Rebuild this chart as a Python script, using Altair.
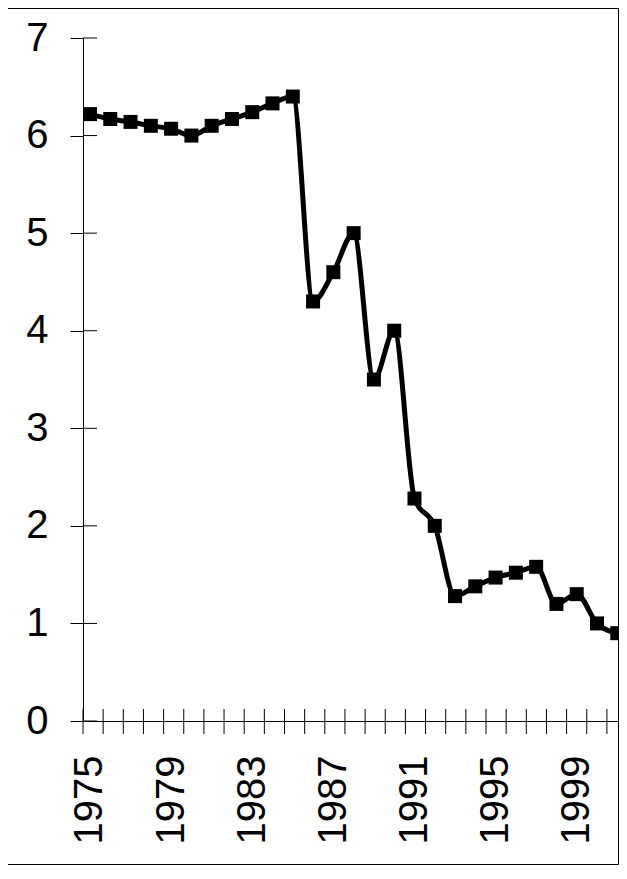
import altair as alt
import pandas as pd

years = list(range(1975, 2002))
values = [6.22, 6.17, 6.14, 6.10, 6.07, 6.00, 6.10, 6.17, 6.24, 6.33, 6.40,
          4.30, 4.60, 5.00, 3.50, 4.00, 2.28, 2.00, 1.28, 1.38, 1.47, 1.52, 1.58,
          1.20, 1.30, 1.00, 0.90]
label_years = [1975, 1979, 1983, 1987, 1991, 1995, 1999]
y_ticks = [0, 1, 2, 3, 4, 5, 6, 7]
# category boundary tick marks on the x axis
x_tick_positions = [1974.655 + k * 0.9936 for k in range(27)]

W, H = 534, 683          # plot area used for layout
RANGE_W = 541            # x scale range (extends to the cropped right edge)
X_DOMAIN = [1974.655, 1974.655 + RANGE_W / 20.28]
FONT = "Liberation Sans"

df = pd.DataFrame({"year": years, "value": values})
xs = alt.Scale(domain=X_DOMAIN, range=[0, RANGE_W], nice=False, zero=False)
ys = alt.Scale(domain=[0, 7], nice=False, zero=True)

xaxis = alt.Axis(values=label_years, format="d", ticks=False,
                 labelAngle=270, labelAlign="right", labelBaseline="middle",
                 labelPadding=34, labelFontSize=40, labelFont=FONT,
                 labelColor="black", labelFlush=False, labelOverlap=False,
                 domainColor="black", domainWidth=1, grid=False, title=None)
yaxis = alt.Axis(values=y_ticks, format="d", tickSize=13, tickColor="black",
                 tickWidth=1, labelPadding=22, labelFontSize=40,
                 labelFont=FONT, labelColor="black", domainColor="black",
                 domainWidth=1, grid=False, title=None)

line = alt.Chart(df).mark_line(
    color="black", strokeWidth=5, interpolate="monotone"
).encode(
    x=alt.X("year:Q", scale=xs, axis=xaxis, title=None),
    y=alt.Y("value:Q", scale=ys, axis=yaxis, title=None),
)

points = alt.Chart(df).mark_point(
    shape="square", filled=True, size=196, color="black", opacity=1
).encode(
    x=alt.X("year:Q", scale=xs, axis=xaxis, title=None),
    y=alt.Y("value:Q", scale=ys, axis=yaxis, title=None),
)

ytick_df = pd.DataFrame({"v": y_ticks})
yticks_in = alt.Chart(ytick_df).mark_rule(color="black", strokeWidth=1).encode(
    y=alt.Y("v:Q", scale=ys, axis=yaxis, title=None),
    x=alt.value(0), x2=alt.value(14),
)

xtick_df = pd.DataFrame({"t": x_tick_positions})
xticks = alt.Chart(xtick_df).mark_rule(color="black", strokeWidth=1).encode(
    x=alt.X("t:Q", scale=xs, axis=xaxis, title=None),
    y=alt.value(H - 12), y2=alt.value(H + 13),
)

FR = W + 1.5     # right frame x (plot coords)
FB = 826.5       # bottom frame y (plot coords)
one = pd.DataFrame({"a": [0]})
frame_top = alt.Chart(one).mark_rule(color="black", strokeWidth=1).encode(
    x=alt.value(-75), x2=alt.value(FR), y=alt.value(-29.5))
frame_right = alt.Chart(one).mark_rule(color="black", strokeWidth=1).encode(
    x=alt.value(FR), y=alt.value(-30), y2=alt.value(FB))
frame_bottom = alt.Chart(one).mark_rule(color="black", strokeWidth=1).encode(
    x=alt.value(-75), x2=alt.value(FR), y=alt.value(FB))

chart = alt.layer(
    line, points, yticks_in, xticks, frame_top, frame_right, frame_bottom
).properties(
    width=W, height=H,
    autosize=alt.AutoSizeParams(type="none"),
    padding={"left": 75, "top": 30, "right": 2, "bottom": 145},
    background="white",
).configure_view(stroke=None)

chart.save("out.html", embed_options={"renderer": "svg", "actions": False})
